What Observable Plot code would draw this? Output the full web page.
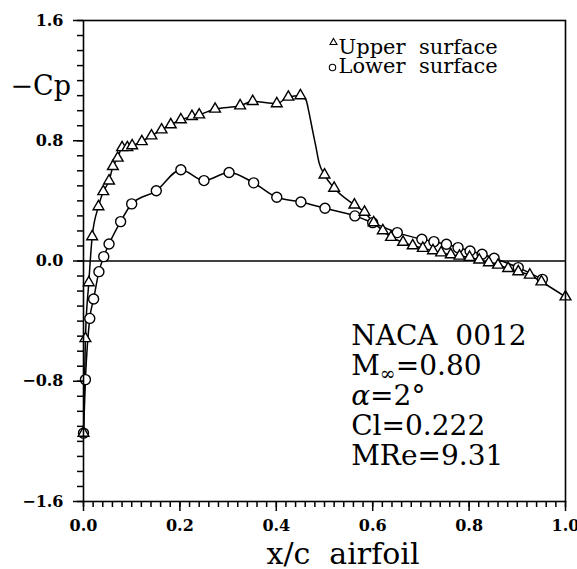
<!DOCTYPE html>
<html><head><meta charset="utf-8">
<script src="https://cdn.jsdelivr.net/npm/d3@7"></script>
<script src="https://cdn.jsdelivr.net/npm/@observablehq/plot@0.6"></script>
<style>
body{margin:0;background:#fff;}
svg text{white-space:pre;}
g[aria-label$="tick label"] text{font-size:16px !important;font-weight:bold !important;}
</style></head><body><div id="chart"></div>
<script>
// Upper surface (triangles)
const upperX = [0, 0.004, 0.011, 0.018, 0.031, 0.041, 0.053, 0.061, 0.071, 0.080, 0.091, 0.101, 0.121, 0.141, 0.162, 0.181, 0.202, 0.225, 0.240, 0.273, 0.325, 0.351, 0.401, 0.425, 0.450, 0.500, 0.520, 0.562, 0.583, 0.602, 0.621, 0.638, 0.663, 0.683, 0.704, 0.725, 0.742, 0.762, 0.780, 0.801, 0.821, 0.841, 0.860, 0.881, 0.902, 0.926, 0.950, 1.0];
const upperCp = [-1.145, -0.516, -0.144, 0.162, 0.362, 0.462, 0.533, 0.629, 0.685, 0.755, 0.755, 0.767, 0.795, 0.833, 0.873, 0.907, 0.940, 0.962, 0.973, 1.011, 1.033, 1.062, 1.047, 1.091, 1.100, 0.573, 0.485, 0.373, 0.325, 0.255, 0.202, 0.158, 0.125, 0.102, 0.085, 0.069, 0.055, 0.042, 0.033, 0.025, 0.007, -0.011, -0.027, -0.049, -0.071, -0.093, -0.138, -0.238];
// extra curve points through the shock (line only)
const shockX = [0.4615, 0.468, 0.475, 0.482, 0.489];
const shockCp = [1.073, 0.985, 0.873, 0.762, 0.651];
// Lower surface (circles)
const lowerX = [0, 0.004, 0.013, 0.021, 0.032, 0.042, 0.053, 0.077, 0.100, 0.151, 0.202, 0.250, 0.302, 0.353, 0.401, 0.451, 0.501, 0.563, 0.600, 0.651, 0.702, 0.727, 0.753, 0.777, 0.802, 0.827, 0.852, 0.902, 0.952];
const lowerCp = [-1.145, -0.789, -0.382, -0.253, -0.071, 0.029, 0.113, 0.262, 0.380, 0.467, 0.607, 0.535, 0.589, 0.520, 0.424, 0.393, 0.351, 0.300, 0.255, 0.189, 0.145, 0.129, 0.111, 0.089, 0.067, 0.045, 0.018, -0.044, -0.122];

const yTicks = [-1.6, -0.8, 0, 0.8, 1.6];
const yMinorTicks = [-1.6,-1.5,-1.4,-1.3,-1.2,-1.1,-1.0,-0.9,-0.8,-0.7,-0.6,-0.5,-0.4,-0.3,-0.2,-0.1,0,0.1,0.2,0.3,0.4,0.5,0.6,0.7,0.8,0.9,1.0,1.1,1.2,1.3,1.4,1.5,1.6];
const xTicks = [0, 0.2, 0.4, 0.6, 0.8, 1.0];
const xMinorTicks = [0,0.02,0.04,0.06,0.08,0.1,0.12,0.14,0.16,0.18,0.2,0.22,0.24,0.26,0.28,0.3,0.32,0.34,0.36,0.38,0.4,0.42,0.44,0.46,0.48,0.5,0.52,0.54,0.56,0.58,0.6,0.62,0.64,0.66,0.68,0.7,0.72,0.74,0.76,0.78,0.8,0.82,0.84,0.86,0.88,0.9,0.92,0.94,0.96,0.98,1.0];
const legendLabels = ["Upper  surface", "Lower  surface"];
const infoLines = ["NACA  0012", "M∞=0.80", "α=2°", "Cl=0.222", "MRe=9.31"];
const xLabel = "x/c  airfoil";
const yLabel = "−Cp";

const upper = upperX.map((x, i) => ({x, cp: upperCp[i]}));
const upperLine = upper.concat(shockX.map((x, i) => ({x, cp: shockCp[i]}))).sort((a, b) => a.x - b.x);
const lower = lowerX.map((x, i) => ({x, cp: lowerCp[i]}));
const fmt = d3.format(".1f");
const blank = () => "";
const F = "DejaVu Serif";

const chart = Plot.plot({
  width: 577, height: 569,
  marginLeft: 83, marginRight: 12, marginTop: 20, marginBottom: 68,
  x: {domain: [0, 1], label: null},
  y: {domain: [-1.6, 1.6], label: null},
  style: {fontFamily: F, background: "#fff", color: "#000", overflow: "visible"},
  marks: [
    Plot.ruleY([0], {stroke: "#000", strokeWidth: 1.5}),
    Plot.line(upperLine, {x: "x", y: "cp", curve: "monotone-x", stroke: "#000", strokeWidth: 1.5}),
    Plot.line(lower, {x: "x", y: "cp", curve: "monotone-x", stroke: "#000", strokeWidth: 1.5}),
    Plot.dot(lower, {x: "x", y: "cp", symbol: "circle", r: 5, fill: "#fff", stroke: "#000", strokeWidth: 1.4}),
    Plot.dot(upper, {x: "x", y: "cp", symbol: "triangle", r: 4, fill: "#fff", stroke: "#000", strokeWidth: 1.4}),
    Plot.frame({stroke: "#000", strokeWidth: 1.6}),
    Plot.axisY(yMinorTicks, {tickSize: 6, tickFormat: blank, label: null, strokeWidth: 1.5}),
    Plot.axisY(yTicks, {tickSize: 10, tickPadding: 10, tickFormat: fmt, label: null, strokeWidth: 1.5, fontSize: 16, fontWeight: "bold"}),
    Plot.axisX(xMinorTicks, {tickSize: 6, tickFormat: blank, label: null, strokeWidth: 1.5}),
    Plot.axisX(xTicks, {tickSize: 10, tickPadding: 8, tickFormat: fmt, label: null, strokeWidth: 1.5, fontSize: 16, fontWeight: "bold"}),
    Plot.text([yLabel], {text: d => d, frameAnchor: "top-left", textAnchor: "start", dx: -73, dy: 65.4, fontSize: 27, lineAnchor: "middle"}),
    Plot.text([xLabel], {text: d => d, frameAnchor: "bottom", textAnchor: "middle", dx: 18.5, dy: 52.4, fontSize: 30, lineAnchor: "middle"}),
    Plot.dot([legendLabels[0]], {frameAnchor: "top-left", dx: 250, dy: 22, symbol: "triangle", r: 2.6, stroke: "#000", fill: "#fff", strokeWidth: 1.1}),
    Plot.dot([legendLabels[1]], {frameAnchor: "top-left", dx: 249, dy: 47, symbol: "circle", r: 3.2, stroke: "#000", fill: "#fff", strokeWidth: 1.1}),
    Plot.text([legendLabels.join("\n")], {text: d => d, frameAnchor: "top-left", textAnchor: "start", dx: 255, dy: 20, fontSize: 21, lineAnchor: "top", lineHeight: 19 / 21}),
    Plot.text([infoLines.join("\n")], {text: d => d, frameAnchor: "top-left", textAnchor: "start", dx: 267.7, dy: 302.8, fontSize: 28, lineAnchor: "top", lineHeight: 30 / 28})
  ]
});

// subscript ∞ and italic α
const NS = "http://www.w3.org/2000/svg";
chart.querySelectorAll("tspan, text").forEach(el => {
  if (el.children.length) return;
  const t = el.textContent;
  if (t.includes("∞")) {
    const [a, b] = t.split("∞");
    el.textContent = a;
    const s = document.createElementNS(NS, "tspan");
    s.setAttribute("font-size", "19");
    s.setAttribute("dy", "5");
    s.textContent = "∞";
    const r = document.createElementNS(NS, "tspan");
    r.setAttribute("dy", "-5");
    r.textContent = b;
    el.appendChild(s); el.appendChild(r);
  } else if (t.startsWith("α")) {
    el.textContent = "";
    const s = document.createElementNS(NS, "tspan");
    s.setAttribute("font-style", "italic");
    s.textContent = "α";
    el.appendChild(s);
    el.appendChild(document.createTextNode(t.slice(1)));
  }
});
document.getElementById("chart").appendChild(chart);
</script></body></html>
